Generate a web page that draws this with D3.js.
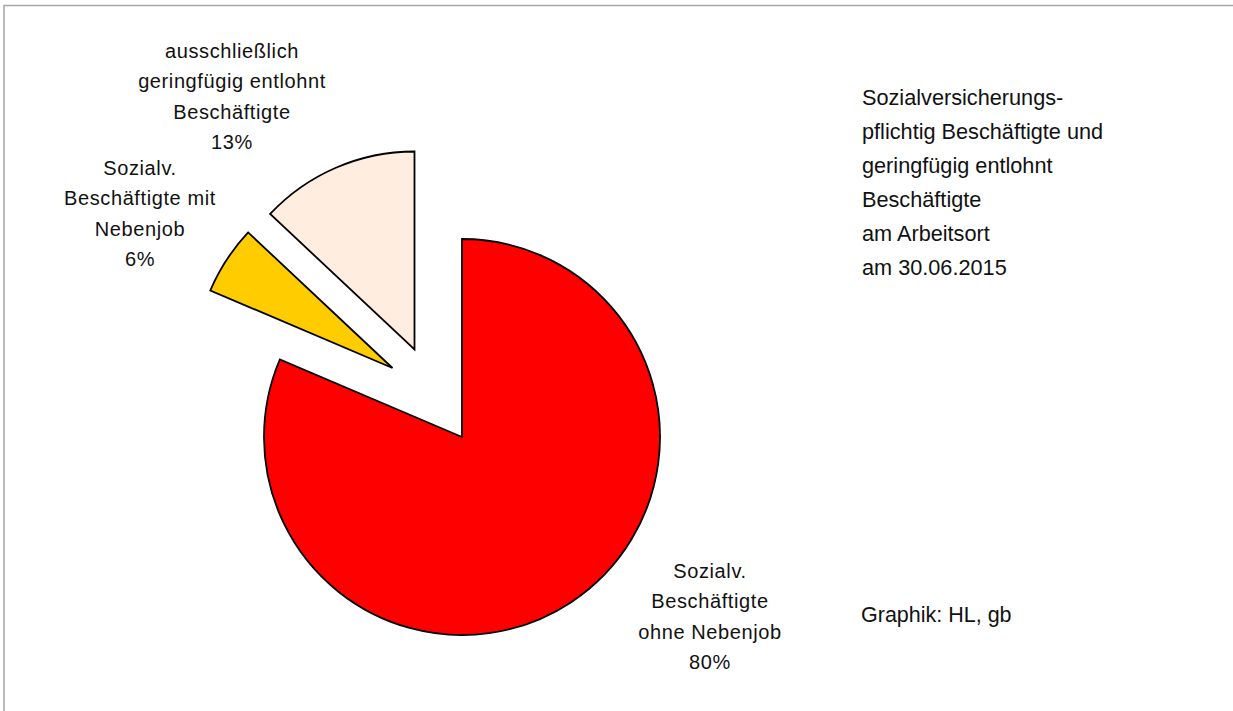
<!DOCTYPE html>
<html>
<head>
<meta charset="utf-8">
<script src="https://cdn.jsdelivr.net/npm/d3@7"></script>
<style>
  html, body { margin: 0; padding: 0; background: #fff; }
  svg { display: block; }
  text { font-family: "Liberation Sans", Arial, sans-serif; fill: #111; }
</style>
</head>
<body>
<svg id="chart" width="1233" height="711"></svg>
<script>
// data
var categories = [
  ['Sozialv.', 'Beschäftigte', 'ohne Nebenjob'],
  ['Sozialv.', 'Beschäftigte mit', 'Nebenjob'],
  ['ausschließlich', 'geringfügig entlohnt', 'Beschäftigte']
];
var shares = [81.4, 5.6, 13.0];
var shareLabels = ['80%', '6%', '13%'];
var titleLines = [
  'Sozialversicherungs-',
  'pflichtig Beschäftigte und',
  'geringfügig entlohnt',
  'Beschäftigte',
  'am Arbeitsort',
  'am 30.06.2015'
];
var creditLine = 'Graphik: HL, gb';

// layout
var W = 1233, H = 711;
var cx = 462, cy = 437, radius = 198;
var colors = ['#ff0000', '#ffcc00', '#ffeddf'];
var explode = [[0, 0], [-69.5, -69], [-47.5, -87.5]];
var labelPos = [[710, 578], [140, 175], [232, 58]];
var lineH = 30.3;

var svg = d3.select('#chart');

// frame
svg.append('path')
  .attr('d', 'M4,' + H + 'V5.5H' + W)
  .attr('fill', 'none')
  .attr('stroke', '#a6a6a6')
  .attr('stroke-width', 1.5)
;

var pie = d3.pie()
  .sort(null)
  .value(function(d) { return d; })
;
var arc = d3.arc()
  .innerRadius(0)
  .outerRadius(radius)
;

var g = svg.append('g')
  .attr('transform', 'translate(' + cx + ',' + cy + ')')
;

g.selectAll('path.slice')
  .data(pie(shares))
  .enter().append('path')
  .attr('class', 'slice')
  .attr('transform', function(d, i) {
    return 'translate(' + explode[i][0] + ',' + explode[i][1] + ')';
  })
  .attr('d', arc)
  .attr('fill', function(d, i) { return colors[i]; })
  .attr('stroke', '#000')
  .attr('stroke-width', 1.8)
  .attr('stroke-linejoin', 'miter')
;

// slice labels
categories.forEach(function(lines, i) {
  var t = svg.append('text')
    .attr('text-anchor', 'middle')
    .attr('font-size', 20)
    .attr('letter-spacing', 0.6)
  ;
  lines.concat([shareLabels[i]]).forEach(function(s, k) {
    t.append('tspan')
      .attr('x', labelPos[i][0])
      .attr('y', labelPos[i][1] + k * lineH)
      .text(s)
    ;
  });
});

// title
var title = svg.append('text')
  .attr('font-size', 21.7)
;
titleLines.forEach(function(s, k) {
  title.append('tspan')
    .attr('x', 862)
    .attr('y', 105 + k * 34)
    .text(s)
  ;
});

svg.append('text')
  .attr('x', 861)
  .attr('y', 622)
  .attr('font-size', 21.5)
  .text(creditLine)
;
</script>
</body>
</html>
